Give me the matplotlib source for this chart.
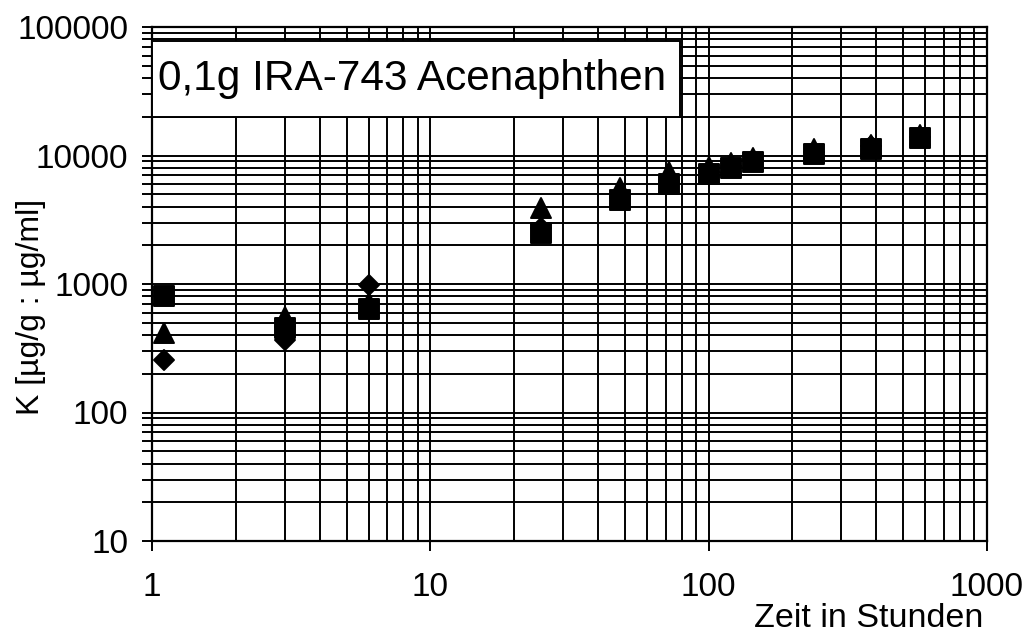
import matplotlib
matplotlib.use("Agg")
import matplotlib.pyplot as plt
from matplotlib.markers import MarkerStyle
from matplotlib.patches import Rectangle
from matplotlib.ticker import LogLocator, NullFormatter, FixedLocator, FixedFormatter

plt.rcParams["font.family"] = ["Liberation Sans", "DejaVu Sans"]

# Zeit in Stunden
hours = [1.1, 3, 6, 25, 48, 72, 100, 120, 144, 240, 384, 576]
# K-Werte der drei Versuchsreihen
k_diamond = [256, 366, 982, 2730, 5000, 6500, 7500, 8300, 9200, 10700, 11800, 14000]
k_triangle = [416, 553, 711, 3900, 5585, 7450, 8150, 8750, 9570, 11250, 12080, 14450]
k_square = [807, 455, 639, 2494, 4505, 6000, 7180, 8000, 8830, 10280, 11330, 13680]

x_ticks = [1, 10, 100, 1000]
y_ticks = [10, 100, 1000, 10000, 100000]
title = "0,1g IRA-743 Acenaphthen"

fig = plt.figure(figsize=(10.33, 6.35), dpi=100)
ax = fig.add_axes([152 / 1033, 1 - 541 / 635, 835 / 1033, 514 / 635])
ax.set_xscale("log")
ax.set_yscale("log")
ax.set_xlim(1, 1000)
ax.set_ylim(10, 100000)

ax.xaxis.set_major_locator(FixedLocator(x_ticks))
ax.xaxis.set_major_formatter(FixedFormatter([str(v) for v in x_ticks]))
ax.yaxis.set_major_locator(FixedLocator(y_ticks))
ax.yaxis.set_major_formatter(FixedFormatter([str(v) for v in y_ticks]))
ax.xaxis.set_minor_locator(LogLocator(base=10, subs=range(2, 10), numticks=20))
ax.yaxis.set_minor_locator(LogLocator(base=10, subs=range(2, 10), numticks=20))
ax.xaxis.set_minor_formatter(NullFormatter())
ax.yaxis.set_minor_formatter(NullFormatter())

ax.grid(True, which="both", color="black", linewidth=1.4)
ax.set_axisbelow(True)
ax.tick_params(axis="both", which="major", direction="out", length=7, width=1.4,
               labelsize=24, color="black")
ax.tick_params(axis="x", which="major", pad=15)
ax.tick_params(axis="y", which="major", pad=10)
ax.tick_params(axis="y", which="minor", direction="out", length=7, width=1.4)
ax.tick_params(axis="x", which="minor", length=0)
for sp in ax.spines.values():
    sp.set_linewidth(1.6)
    sp.set_color("black")

ms_kw = dict(linestyle="none", color="black", markeredgecolor="black",
             markeredgewidth=1.4, zorder=5, clip_on=False)
ax.plot(hours, k_diamond, marker=MarkerStyle("D", joinstyle="round"),
        markersize=10, **ms_kw)
ax.plot(hours, k_triangle, marker=MarkerStyle("^", joinstyle="round"),
        markersize=14.5, **ms_kw)
ax.plot(hours, k_square, marker=MarkerStyle("s", joinstyle="round"),
        markersize=14, **ms_kw)

# Textfeld oben links
box = Rectangle((0, (541 - 117) / 514), (680 - 152) / 835, 76 / 514,
                transform=ax.transAxes, facecolor="white", edgecolor="black",
                linewidth=1.4, zorder=6)
ax.add_patch(box)
ax.text(6 / 835, (541 - 79) / 514, title, transform=ax.transAxes,
        ha="left", va="center", fontsize=30.5, zorder=7)

fig.text(31 / 1033, 1 - 307 / 635, "K [µg/g : µg/ml]", rotation=90,
         ha="center", va="center", fontsize=23)
fig.text(983 / 1033, 1 - 627 / 635, "Zeit in Stunden", ha="right",
         va="baseline", fontsize=24.5)

fig.savefig("out.png", dpi=100, facecolor="white")
